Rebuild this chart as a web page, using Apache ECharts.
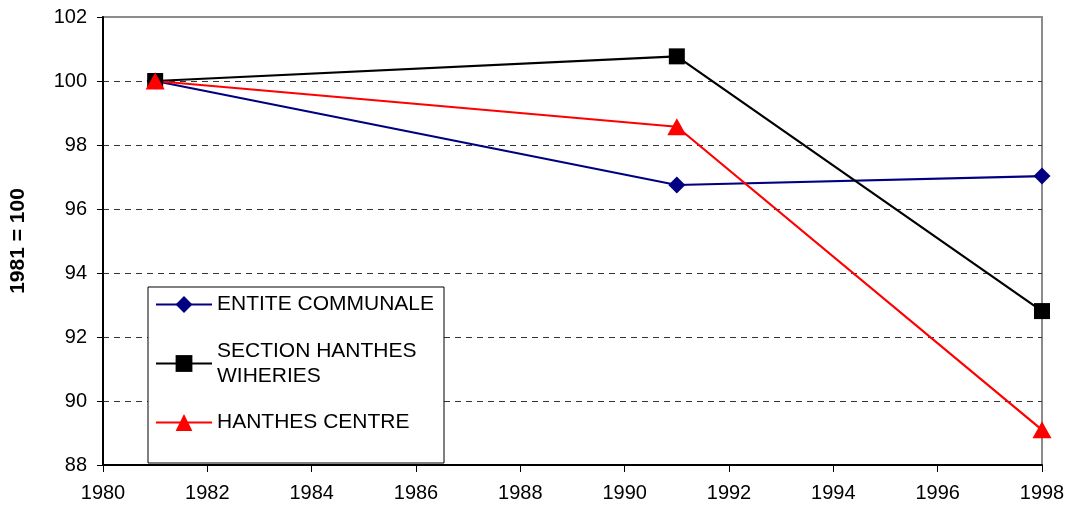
<!DOCTYPE html>
<html lang="fr">
<head>
    <meta charset="UTF-8">
    <title>1981 = 100</title>
    <style type="text/css">
        *{
            margin: 0;
            padding: 0;
        }
        #main{
            width: 1069px;
            height: 507px;
            position: absolute;
            background: #fff;
        }
    </style>
</head>
<body>
    <div id="main"></div>
    <script src="https://cdn.jsdelivr.net/npm/echarts@6/dist/echarts.min.js"></script>
    <script type="text/javascript">
        var years = [1981, 1991, 1998];
        var entiteCommunale = [100, 96.75, 97.03];
        var sectionHanthes = [100, 100.77, 92.81];
        var hanthesCentre = [100, 98.57, 89.1];
        var seriesNames = ['ENTITE COMMUNALE', 'SECTION HANTHES\nWIHERIES', 'HANTHES CENTRE'];

        function pairs(values) {
            return years.map(function (y, i) { return [y, values[i]]; });
        }

        var myChart = echarts.init(document.getElementById('main'));
        var font = 'Liberation Sans, Arial, sans-serif';

        option = {
            animation: false,
            grid: {
                left: 102,
                right: 27,
                top: 17,
                bottom: 42,
                show: true,
                borderColor: '#8c8c8c',
                borderWidth: 2
            },
            legend: {
                orient: 'vertical',
                left: 148,
                top: 287,
                padding: [5, 10, 28, 7],
                itemGap: 9,
                itemWidth: 56,
                itemHeight: 21,
                backgroundColor: '#fff',
                borderColor: '#000',
                borderWidth: 1,
                borderRadius: 0,
                textStyle: {
                    fontFamily: font,
                    fontSize: 21,
                    lineHeight: 25,
                    color: '#000'
                },
                data: [
                    { name: seriesNames[0] },
                    { name: seriesNames[1], textStyle: { padding: [25, 0, 0, 0] } },
                    { name: seriesNames[2] }
                ]
            },
            xAxis: {
                type: 'value',
                min: 1980,
                max: 1998,
                interval: 2,
                axisLine: { show: true, lineStyle: { color: '#000', width: 2 } },
                axisTick: { show: true, length: 7, lineStyle: { color: '#000', width: 1 } },
                axisLabel: {
                    margin: 18, fontFamily: font, fontSize: 20, color: '#000',
                    formatter: function (v) { return String(v); }
                },
                splitLine: { show: false }
            },
            yAxis: {
                type: 'value',
                min: 88,
                max: 102,
                interval: 2,
                name: '1981 = 100',
                nameLocation: 'middle',
                nameRotate: 90,
                nameGap: 74,
                nameTextStyle: { fontFamily: font, fontSize: 21, fontWeight: 'bold', color: '#000' },
                axisLine: { show: true, lineStyle: { color: '#000', width: 2 } },
                axisTick: { show: true, length: 6, lineStyle: { color: '#000', width: 1 } },
                axisLabel: { margin: 16, fontFamily: font, fontSize: 20, color: '#000' },
                splitLine: {
                    show: true,
                    lineStyle: {
                        color: ['rgba(0,0,0,0)', '#333', '#333', '#333', '#333', '#333', '#333', 'rgba(0,0,0,0)'],
                        type: [6, 5],
                        width: 1
                    }
                }
            },
            series: [{
                name: seriesNames[0],
                type: 'line',
                data: pairs(entiteCommunale),
                symbol: 'diamond',
                symbolSize: 17,
                lineStyle: { color: '#000080', width: 2.2 },
                itemStyle: { color: '#000080' }
            }, {
                name: seriesNames[1],
                type: 'line',
                data: pairs(sectionHanthes),
                symbol: 'rect',
                symbolSize: 16,
                lineStyle: { color: '#000', width: 2.2 },
                itemStyle: { color: '#000' }
            }, {
                name: seriesNames[2],
                type: 'line',
                data: pairs(hanthesCentre),
                symbol: 'triangle',
                symbolSize: [19, 17],
                lineStyle: { color: '#ff0000', width: 2.2 },
                itemStyle: { color: '#ff0000' }
            }]
        };

        myChart.setOption(option);
    </script>
</body>
</html>
